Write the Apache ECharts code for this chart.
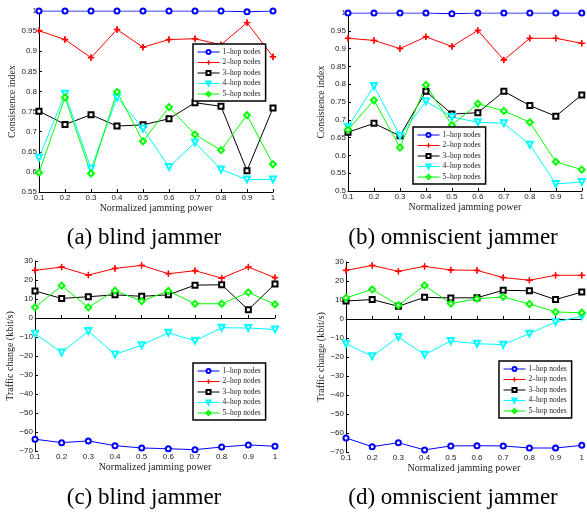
<!DOCTYPE html>
<html>
<head>
    <meta charset="utf-8">
    <title>Jamming</title>
    <script src="https://cdn.jsdelivr.net/npm/echarts@6/dist/echarts.min.js"></script>
</head>
<body style="margin:0;background:#fff">
    <div id="main" style="width:587px;height:515px;"></div>
    <script type="text/javascript">
        // 横轴：归一化干扰功率
        var xLabels = ['0.1', '0.2', '0.3', '0.4', '0.5', '0.6', '0.7', '0.8', '0.9', '1'];
        var hopNames = ['1–hop nodes', '2–hop nodes', '3–hop nodes', '4–hop nodes', '5–hop nodes'];

        // (a) blind jammer - consistence index
        var ciBlind1 = [1, 1, 1, 1, 1, 1, 1, 1, 0.998, 1];
        var ciBlind2 = [0.951, 0.929, 0.884, 0.954, 0.910, 0.929, 0.931, 0.916, 0.971, 0.886];
        var ciBlind3 = [0.751, 0.718, 0.742, 0.714, 0.717, 0.732, 0.772, 0.763, 0.603, 0.759];
        var ciBlind4 = [0.635, 0.794, 0.608, 0.785, 0.708, 0.612, 0.673, 0.606, 0.581, 0.581];
        var ciBlind5 = [0.598, 0.785, 0.596, 0.799, 0.676, 0.761, 0.693, 0.654, 0.741, 0.619];

        // (b) omniscient jammer - consistence index
        var ciOmni1 = [1, 1, 1, 1, 0.998, 1, 1, 1, 1, 1];
        var ciOmni2 = [0.929, 0.923, 0.900, 0.933, 0.906, 0.951, 0.868, 0.929, 0.929, 0.915];
        var ciOmni3 = [0.665, 0.690, 0.655, 0.780, 0.716, 0.720, 0.780, 0.740, 0.710, 0.770];
        var ciOmni4 = [0.680, 0.795, 0.655, 0.752, 0.708, 0.693, 0.690, 0.630, 0.520, 0.525];
        var ciOmni5 = [0.672, 0.755, 0.622, 0.798, 0.685, 0.745, 0.725, 0.693, 0.582, 0.560];

        // (c) blind jammer - traffic change
        var trBlind1 = [-63.8, -65.6, -64.7, -67.2, -68.4, -68.8, -69.3, -67.9, -66.8, -67.5];
        var trBlind2 = [25.1, 26.8, 22.6, 26.1, 27.7, 23.3, 24.9, 21.0, 26.8, 21.2];
        var trBlind3 = [14.2, 10.3, 11.2, 12.2, 11.4, 12.2, 17.3, 17.5, 4.3, 17.9];
        var trBlind4 = [-8.3, -18.2, -6.9, -19.2, -14.3, -7.8, -12.0, -5.1, -5.3, -6.0];
        var trBlind5 = [5.6, 17.0, 5.6, 14.4, 8.9, 14.2, 7.5, 7.5, 13.5, 7.2];

        // (d) omniscient jammer - traffic change
        var trOmni1 = [-62.6, -67.2, -65.1, -68.9, -66.8, -66.7, -66.8, -67.9, -67.9, -66.5];
        var trOmni2 = [25.6, 28.2, 25.1, 27.7, 25.8, 25.6, 21.8, 20.4, 23.0, 23.0];
        var trOmni3 = [9.5, 10.2, 6.7, 11.4, 11.1, 11.2, 15.1, 14.9, 10.2, 14.2];
        var trOmni4 = [-13.0, -19.6, -9.5, -18.8, -11.6, -13.0, -13.5, -7.7, -1.6, 1.4];
        var trOmni5 = [11.1, 15.6, 7.2, 17.7, 8.1, 10.7, 11.6, 7.9, 3.7, 3.3];

        var captions = ['(a) blind jammer', '(b) omniscient jammer', '(c) blind jammer', '(d) omniscient jammer'];

        var plusPath = 'path://M4.5,0L5.5,0L5.5,4.5L10,4.5L10,5.5L5.5,5.5L5.5,10L4.5,10L4.5,5.5L0,5.5L0,4.5L4.5,4.5Z';
        var styles = [
            {color: '#0000ff', symbol: 'emptyCircle', size: 5},
            {color: '#ff0000', symbol: plusPath, size: 6},
            {color: '#000000', symbol: 'emptyRect', size: 5},
            {color: '#00ffff', symbol: 'emptyTriangle', size: 6, rotate: 180},
            {color: '#00ff00', symbol: 'emptyDiamond', size: 6}
        ];

        var panels = [
            {grid: {left: 39, top: 11, width: 234, height: 181}, ymin: 0.55, ymax: 1, step: 0.05, yname: 'Consistence index', ygap: 15,
             data: [ciBlind1, ciBlind2, ciBlind3, ciBlind4, ciBlind5], legend: {left: 193, top: 44}, cap: [144, 238]},
            {grid: {left: 348, top: 13, width: 235, height: 178}, ymin: 0.5, ymax: 1, step: 0.05, yname: 'Consistence index', ygap: 15,
             data: [ciOmni1, ciOmni2, ciOmni3, ciOmni4, ciOmni5], legend: {left: 413, top: 127}, cap: [453, 238]},
            {grid: {left: 35, top: 261, width: 240, height: 190}, ymin: -70, ymax: 30, step: 10, yname: 'Traffic change (kbit/s)', ygap: 13,
             data: [trBlind1, trBlind2, trBlind3, trBlind4, trBlind5], legend: {left: 193, top: 363}, cap: [144, 498]},
            {grid: {left: 346, top: 262, width: 237, height: 190}, ymin: -70, ymax: 30, step: 10, yname: 'Traffic change (kbit/s)', ygap: 13,
             data: [trOmni1, trOmni2, trOmni3, trOmni4, trOmni5], legend: {left: 499, top: 361}, cap: [453, 498]}
        ];

        var tickFont = {fontSize: 8, color: '#222', fontFamily: 'Liberation Sans'};
        var nameFont = {fontSize: 10, color: '#222', fontFamily: 'Liberation Serif'};

        var option = {
            animation: false,
            backgroundColor: '#fff',
            grid: [], xAxis: [], yAxis: [], series: [], legend: [], graphic: []
        };

        panels.forEach(function (p, i) {
            option.grid.push(p.grid);
            option.xAxis.push({
                type: 'category', gridIndex: i, data: xLabels, boundaryGap: false,
                name: 'Normalized jamming power', nameLocation: 'middle', nameGap: 11, nameTextStyle: nameFont,
                axisLine: {lineStyle: {color: '#000', width: 1}},
                axisTick: {inside: true, length: 3, alignWithLabel: true, lineStyle: {color: '#000'}},
                axisLabel: Object.assign({margin: 2, interval: 0}, tickFont),
                splitLine: {show: false}
            });
            option.yAxis.push({
                type: 'value', gridIndex: i, min: p.ymin, max: p.ymax, interval: p.step,
                name: p.yname, nameLocation: 'middle', nameGap: p.ygap, nameTextStyle: nameFont,
                axisLine: {show: true, lineStyle: {color: '#000', width: 1}},
                axisTick: {show: true, inside: true, length: 3, lineStyle: {color: '#000'}},
                axisLabel: Object.assign({margin: 2, formatter: function (v) {
                    return String(+v.toFixed(2)).replace('-', '−');
                }}, tickFont),
                splitLine: {show: false}
            });
            p.data.forEach(function (arr, k) {
                var s = styles[k];
                option.series.push({
                    name: hopNames[k], type: 'line', xAxisIndex: i, yAxisIndex: i, data: arr,
                    symbol: s.symbol, symbolSize: s.size, symbolRotate: s.rotate || 0,
                    showAllSymbol: true,
                    lineStyle: {color: s.color, width: 1},
                    itemStyle: {color: s.color, borderColor: s.color, borderWidth: 1}
                });
            });
            option.legend.push({
                orient: 'vertical', left: p.legend.left, top: p.legend.top,
                data: hopNames, itemWidth: 22, itemHeight: 5, itemGap: 2.5,
                padding: [4, 5, 3, 4], backgroundColor: '#fff', borderColor: '#000', borderWidth: 1.5,
                selectedMode: false,
                lineStyle: {width: 1},
                itemStyle: {borderWidth: 1},
                textStyle: {fontSize: 7.5, color: '#222', fontFamily: 'Liberation Serif', padding: [0, 0, 0, -2]}
            });
            option.graphic.push({
                type: 'text', x: p.cap[0], y: p.cap[1],
                style: {text: captions[i], fill: '#000', font: '23px "Liberation Serif"', align: 'center', verticalAlign: 'middle'}
            });
        });

        var myChart = echarts.init(document.getElementById('main'));
        myChart.setOption(option);
    </script>
</body>
</html>
